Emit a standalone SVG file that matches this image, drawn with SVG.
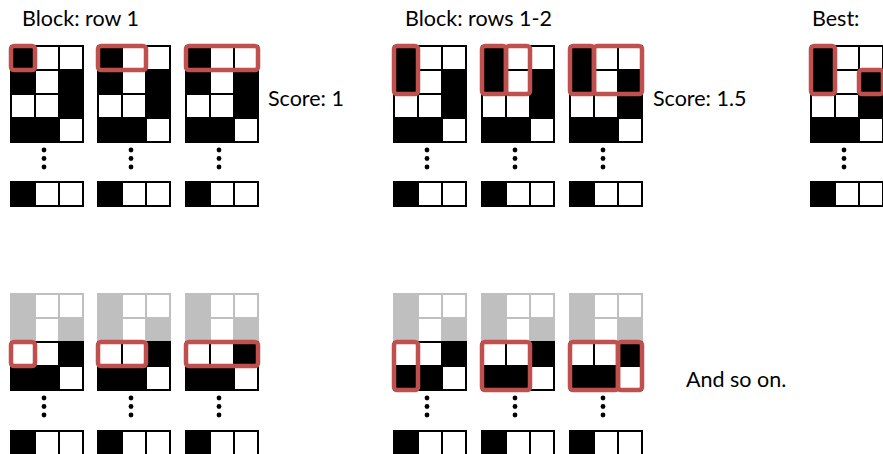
<svg xmlns="http://www.w3.org/2000/svg" xmlns:xlink="http://www.w3.org/1999/xlink" width="883" height="454" viewBox="0 0 883 454">
<style>
.r{fill:none;stroke:#c0504d;stroke-width:4.5}
.t{font-family:Lato,"Open Sans","Liberation Sans",sans-serif;font-size:21.5px;fill:#000}
</style>
<defs>
<g id="gTop">
<rect width="74" height="98" fill="#000"/>
<rect x="26" y="2" width="22" height="22" fill="#fff"/>
<rect x="50" y="2" width="22" height="22" fill="#fff"/>
<rect x="26" y="26" width="22" height="22" fill="#fff"/>
<rect x="2" y="50" width="22" height="22" fill="#fff"/>
<rect x="26" y="50" width="22" height="22" fill="#fff"/>
<rect x="50" y="74" width="22" height="22" fill="#fff"/>
</g>
<g id="gBot">
<rect width="74" height="48" fill="#bfbfbf"/>
<rect y="48" width="74" height="50" fill="#000"/>
<rect x="26" y="2" width="22" height="22" fill="#fff"/>
<rect x="50" y="2" width="22" height="22" fill="#fff"/>
<rect x="26" y="26" width="22" height="22" fill="#fff"/>
<rect x="2" y="50" width="22" height="22" fill="#fff"/>
<rect x="26" y="50" width="22" height="22" fill="#fff"/>
<rect x="50" y="74" width="22" height="22" fill="#fff"/>
</g>
<g id="strip">
<rect width="74" height="26" fill="#000"/>
<rect x="26" y="2" width="22" height="22" fill="#fff"/>
<rect x="50" y="2" width="22" height="22" fill="#fff"/>
</g>
<g id="dots">
<circle cx="34" cy="0" r="2.4" fill="#000"/>
<circle cx="34" cy="8.5" r="2.4" fill="#000"/>
<circle cx="34" cy="17" r="2.4" fill="#000"/>
</g>
</defs>
<rect width="883" height="454" fill="#fff"/>

<g id="labels">
<text class="t" x="22" y="26">Block: row 1</text>
<text class="t" x="405" y="26">Block: rows 1-2</text>
<text class="t" x="812" y="26">Best:</text>
<text class="t" x="268" y="106">Score: 1</text>
<text class="t" x="653" y="106">Score: 1.5</text>
<text class="t" x="686" y="387">And so on.</text>
</g>

<g id="connectors"/>

<g id="top-row1-a" transform="translate(10 0)">
<use xlink:href="#gTop" y="45"/>
<rect class="r" x="1" y="46" width="24" height="24" rx="3"/>
<use xlink:href="#dots" y="150"/>
<use xlink:href="#strip" y="181"/>
</g>
<g id="top-row1-b" transform="translate(97 0)">
<use xlink:href="#gTop" y="45"/>
<rect class="r" x="1" y="46" width="48" height="24" rx="3"/>
<use xlink:href="#dots" y="150"/>
<use xlink:href="#strip" y="181"/>
</g>
<g id="top-row1-c" transform="translate(185 0)">
<use xlink:href="#gTop" y="45"/>
<rect class="r" x="1" y="46" width="72" height="24" rx="3"/>
<use xlink:href="#dots" y="150"/>
<use xlink:href="#strip" y="181"/>
</g>

<g id="top-rows12-a" transform="translate(393 0)">
<use xlink:href="#gTop" y="45"/>
<rect class="r" x="1" y="46" width="24" height="48" rx="3"/>
<use xlink:href="#dots" y="150"/>
<use xlink:href="#strip" y="181"/>
</g>
<g id="top-rows12-b" transform="translate(481 0)">
<use xlink:href="#gTop" y="45"/>
<rect class="r" x="1" y="46" width="24" height="48" rx="3"/>
<rect class="r" x="25" y="46" width="24" height="48" rx="3"/>
<use xlink:href="#dots" y="150"/>
<use xlink:href="#strip" y="181"/>
</g>
<g id="top-rows12-c" transform="translate(569 0)">
<use xlink:href="#gTop" y="45"/>
<rect class="r" x="1" y="46" width="24" height="48" rx="3"/>
<rect class="r" x="25" y="46" width="48" height="48" rx="3"/>
<use xlink:href="#dots" y="150"/>
<use xlink:href="#strip" y="181"/>
</g>

<g id="top-best" transform="translate(810 0)">
<use xlink:href="#gTop" y="45"/>
<rect class="r" x="1" y="46" width="24" height="48" rx="3"/>
<rect class="r" x="49" y="70" width="24" height="24" rx="3"/>
<use xlink:href="#dots" y="150"/>
<use xlink:href="#strip" y="181"/>
</g>

<g id="bot-row3-a" transform="translate(10 0)">
<use xlink:href="#gBot" y="293"/>
<rect class="r" x="1" y="342" width="24" height="24" rx="3"/>
<use xlink:href="#dots" y="398"/>
<use xlink:href="#strip" y="430"/>
</g>
<g id="bot-row3-b" transform="translate(97 0)">
<use xlink:href="#gBot" y="293"/>
<rect class="r" x="1" y="342" width="48" height="24" rx="3"/>
<use xlink:href="#dots" y="398"/>
<use xlink:href="#strip" y="430"/>
</g>
<g id="bot-row3-c" transform="translate(185 0)">
<use xlink:href="#gBot" y="293"/>
<rect class="r" x="1" y="342" width="72" height="24" rx="3"/>
<use xlink:href="#dots" y="398"/>
<use xlink:href="#strip" y="430"/>
</g>

<g id="bot-rows34-a" transform="translate(393 0)">
<use xlink:href="#gBot" y="293"/>
<rect class="r" x="1" y="342" width="24" height="48" rx="3"/>
<use xlink:href="#dots" y="398"/>
<use xlink:href="#strip" y="430"/>
</g>
<g id="bot-rows34-b" transform="translate(481 0)">
<use xlink:href="#gBot" y="293"/>
<rect class="r" x="1" y="342" width="48" height="48" rx="3"/>
<use xlink:href="#dots" y="398"/>
<use xlink:href="#strip" y="430"/>
</g>
<g id="bot-rows34-c" transform="translate(569 0)">
<use xlink:href="#gBot" y="293"/>
<rect class="r" x="1" y="342" width="48" height="48" rx="3"/>
<rect class="r" x="49" y="342" width="24" height="48" rx="3"/>
<use xlink:href="#dots" y="398"/>
<use xlink:href="#strip" y="430"/>
</g>
</svg>
